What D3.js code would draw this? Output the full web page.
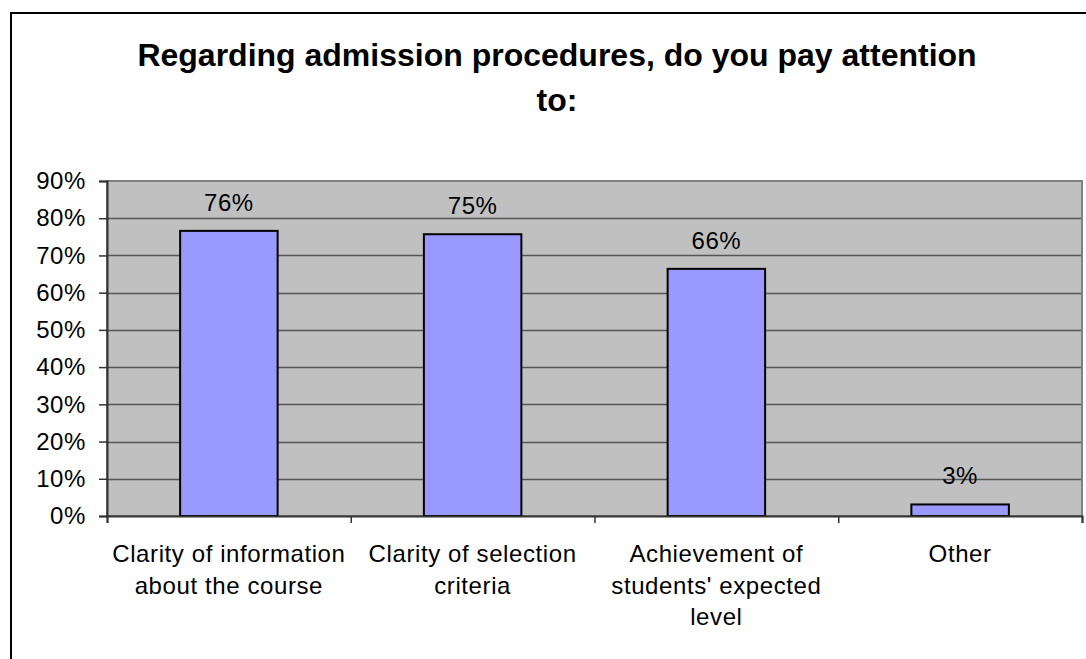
<!DOCTYPE html>
<html>
<head>
<meta charset="utf-8">
<script src="https://cdn.jsdelivr.net/npm/d3@7"></script>
<style>
  html, body { margin: 0; padding: 0; background: #fff; }
  svg { display: block; }
  text { font-family: Arial, "Liberation Sans", sans-serif; fill: #000; }
</style>
</head>
<body>
<svg id="chart" width="1086" height="659"></svg>
<script>
const title = ["Regarding admission procedures, do you pay attention", "to:"];
const categories = [
  ["Clarity of information", "about the course"],
  ["Clarity of selection", "criteria"],
  ["Achievement of", "students' expected", "level"],
  ["Other"]
];
const values = [0.766, 0.757, 0.664, 0.031];
const valueLabels = ["76%", "75%", "66%", "3%"];
const yTicks = [0, 0.1, 0.2, 0.3, 0.4, 0.5, 0.6, 0.7, 0.8, 0.9];

const svg = d3.select("#chart");
const plot = { left: 107, right: 1082, top: 181, bottom: 516 };

// stray italic glyph fragment at top-left (cropped text above chart)
svg.append("text").attr("x", 38).attr("y", -3).style("font-size", "16px").style("font-style", "italic").text("y");

// outer chart border
svg.append("rect").attr("x", 11).attr("y", 13).attr("width", 1100).attr("height", 700)
  .attr("fill", "#fff").attr("stroke", "#000").attr("stroke-width", 2);

// title
const t = svg.append("text").attr("text-anchor", "middle")
  .style("font-size", "32px").style("font-weight", "bold");
title.forEach((line, i) => {
  t.append("tspan").attr("x", 557).attr("y", 66 + i * 45).text(line);
});

const x = d3.scaleBand().domain(d3.range(categories.length)).range([plot.left, plot.right]).paddingInner(0).paddingOuter(0);
const y = d3.scaleLinear().domain([0, 0.9]).range([plot.bottom, plot.top]);
const barW = x.bandwidth() * 0.4;

// plot background
svg.append("rect").attr("x", plot.left).attr("y", plot.top)
  .attr("width", plot.right - plot.left).attr("height", plot.bottom - plot.top)
  .attr("fill", "#C0C0C0");

// gridlines
svg.append("g").selectAll("line").data(yTicks.filter(d => d > 0 && d < 0.9)).join("line")
  .attr("x1", plot.left).attr("x2", plot.right)
  .attr("y1", d => Math.round(y(d)) + 0.5).attr("y2", d => Math.round(y(d)) + 0.5)
  .attr("stroke", "#555").attr("stroke-width", 1.5);

// plot border
svg.append("rect").attr("x", plot.left).attr("y", plot.top)
  .attr("width", plot.right - plot.left).attr("height", plot.bottom - plot.top)
  .attr("fill", "none").attr("stroke", "#808080").attr("stroke-width", 2);

// bars
svg.append("g").selectAll("rect").data(values).join("rect")
  .attr("x", (d, i) => x(i) + (x.bandwidth() - barW) / 2)
  .attr("y", d => y(d))
  .attr("width", barW)
  .attr("height", d => y(0) - y(d))
  .attr("fill", "#9999FF").attr("stroke", "#000").attr("stroke-width", 2);

// data labels
svg.append("g").selectAll("text").data(values).join("text")
  .attr("x", (d, i) => x(i) + x.bandwidth() / 2)
  .attr("y", d => y(d) - 20)
  .attr("text-anchor", "middle")
  .style("font-size", "24px").style("letter-spacing", "0.6px")
  .text((d, i) => valueLabels[i]);

// y axis
const yAxis = d3.axisLeft(y).tickValues(yTicks).tickFormat(d3.format(".0%")).tickSize(8).tickPadding(13);
const gy = svg.append("g").attr("transform", `translate(${plot.left},0)`).call(yAxis);
gy.select(".domain").attr("stroke", "#333").attr("stroke-width", 2);
gy.selectAll(".tick line").attr("stroke", "#333").attr("stroke-width", 1.5);
gy.selectAll(".tick text").style("font-size", "24px").style("letter-spacing", "0.6px")
  .style("font-family", "Arial, 'Liberation Sans', sans-serif").attr("fill", "#000");

// x axis
const xTickScale = d3.scaleLinear().domain([0, categories.length]).range([plot.left, plot.right]);
const xAxis = d3.axisBottom(xTickScale).tickValues(d3.range(categories.length + 1)).tickSize(7).tickFormat("");
const gx = svg.append("g").attr("transform", `translate(0,${plot.bottom})`).call(xAxis);
gx.select(".domain").attr("stroke", "#333").attr("stroke-width", 2);
gx.selectAll(".tick line").attr("stroke", "#333").attr("stroke-width", 1.5);

// category labels
const cl = svg.append("g").selectAll("text").data(categories).join("text")
  .attr("text-anchor", "middle")
  .style("font-size", "24px").style("letter-spacing", "0.6px");
cl.each(function(lines, i) {
  const el = d3.select(this);
  lines.forEach((line, j) => {
    el.append("tspan").attr("x", x(i) + x.bandwidth() / 2).attr("y", 562 + j * 31.7).text(line);
  });
});
</script>
</body>
</html>
